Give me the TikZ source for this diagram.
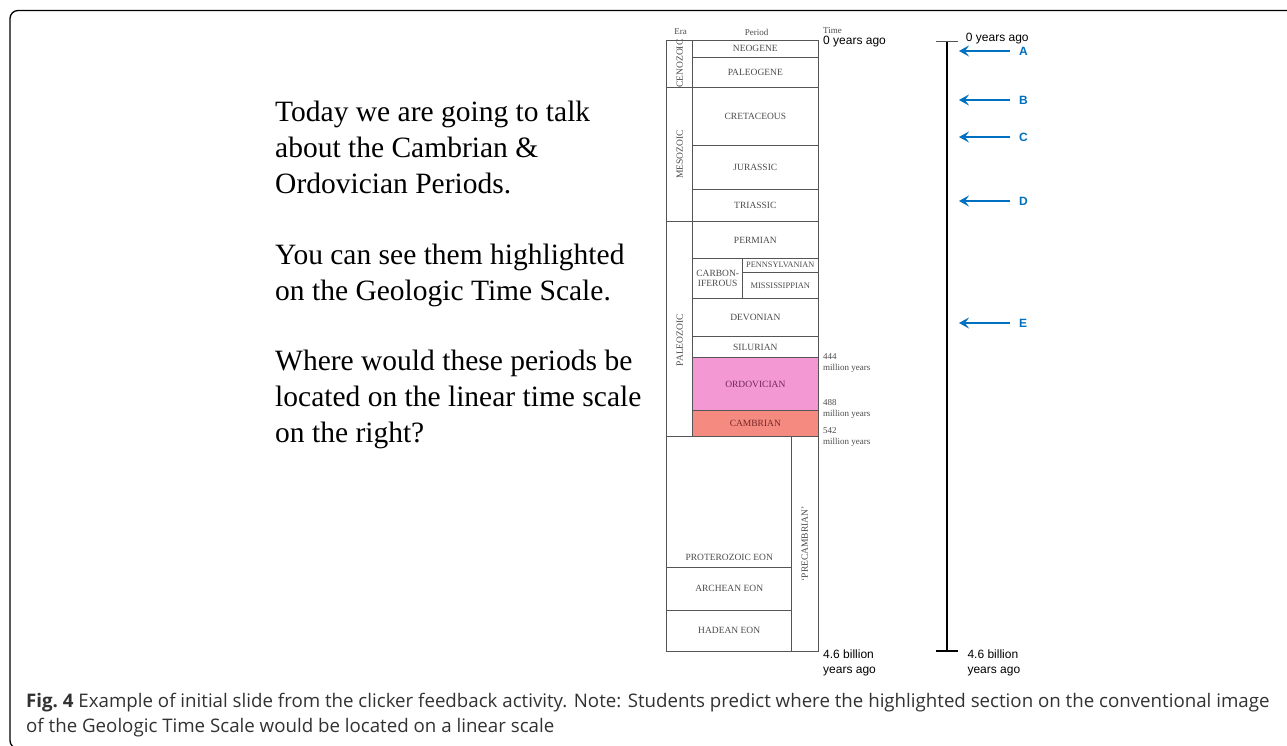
\documentclass[tikz,border=0pt]{standalone}
\usepackage{fontspec}
\setmainfont{Liberation Serif}
\newfontfamily\sansfnt{Liberation Sans}
\newfontfamily\capfnt{Open Sans}
\usetikzlibrary{positioning,arrows.meta}

\definecolor{tabline}{RGB}{85,85,85}
\definecolor{tabtext}{RGB}{75,75,75}
\definecolor{ordopink}{RGB}{244,152,212}
\definecolor{ordotext}{RGB}{110,40,85}
\definecolor{cambsalmon}{RGB}{244,138,128}
\definecolor{cambtext}{RGB}{120,40,40}
\definecolor{choiceblue}{RGB}{0,112,192}
\definecolor{captext}{RGB}{50,50,50}

\tikzset{
	per/.style={draw=tabline, line width=0.9pt, anchor=north west, inner sep=0pt, outer sep=0pt, text=tabtext, font=\fontsize{9.5}{10}\selectfont, minimum width=125.3pt},
	era/.style={per, minimum width=26pt},
	eralab/.style={rotate=90, text=tabtext, inner sep=0pt, font=\fontsize{9.5}{10}\selectfont},
	tabtxt/.style={inner sep=0pt, text=tabtext, font=\fontsize{9.5}{10}\selectfont},
	hdr/.style={inner sep=0pt, text=tabtext, font=\fontsize{9}{10}\selectfont},
	agelab/.style={anchor=north west, inner sep=0pt, align=left, text=tabtext, font=\fontsize{9}{11}\selectfont},
	timelab/.style={inner sep=0pt, align=left, font=\sansfnt\fontsize{12}{15}\selectfont},
	choice/.style={inner sep=0pt, text=choiceblue, font=\sansfnt\bfseries\fontsize{12}{12}\selectfont},
	pointer/.style={draw=choiceblue, line width=2.5pt, -{Stealth[length=10pt,width=11pt,inset=4pt]}},
	scaleline/.style={line width=1.4pt},
	slide/.style={anchor=north west, align=left, inner sep=0pt, font=\fontsize{29.5}{36}\selectfont},
}

\begin{document}
\begin{tikzpicture}[x=1pt,y=-1pt]
	\useasboundingbox (0,0) rectangle (1287,746);
	\draw[line width=1.3pt, rounded corners=8pt] (1300,10.5) -- (10,10.5) -- (10,748.5) -- (1300,748.5);

	% slide text
	\node[slide] (para1) at (275,100.9) {Today we are going to talk\\about the Cambrian \&\\Ordovician Periods.};
	\node[slide] (para2) at (275,243.4) {You can see them highlighted\\on the Geologic Time Scale.};
	\node[slide] (para3) at (275,349.4) {Where would these periods be\\located on the linear time scale\\on the right?};

	% time scale table
	\node[hdr] (hera) at (680.7,32) {Era};
	\node[hdr] (hper) at (756.7,32) {Period};
	\node[hdr, anchor=west] (htime) at (823,31) {Time};

	\node[era, minimum height=47.3pt, label={[eralab]center:CENOZOIC}] (ceno) at (666.7,40) {};
	\node[era, minimum height=134.4pt, label={[eralab]center:MESOZOIC}] (meso) at (ceno.south west) {};
	\node[era, minimum height=215pt, label={[eralab, xshift=-11pt]center:PALEOZOIC}] (paleo) at (meso.south west) {};

	\node[per, minimum height=17.7pt] (neog) at (ceno.north east) {NEOGENE};
	\node[per, minimum height=29.6pt] (paleog) at (neog.south west) {PALEOGENE};
	\node[per, minimum height=58pt] (cret) at (paleog.south west) {CRETACEOUS};
	\node[per, minimum height=44pt] (jura) at (cret.south west) {JURASSIC};
	\node[per, minimum height=32.4pt] (tria) at (jura.south west) {TRIASSIC};
	\node[per, minimum height=36.6pt] (perm) at (tria.south west) {PERMIAN};
	\node[per, minimum width=50pt, minimum height=40pt, align=center, font=\fontsize{9.5}{10}\selectfont] (carb) at (perm.south west) {CARBON-\\IFEROUS};
	\node[per, minimum width=75.3pt, minimum height=14pt, font=\fontsize{8.3}{9}\selectfont] (penn) at (carb.north east) {PENNSYLVANIAN};
	\node[per, minimum width=75.3pt, minimum height=26pt, font=\fontsize{8.5}{9}\selectfont] (miss) at (penn.south west) {MISSISSIPPIAN};
	\node[per, minimum height=38.4pt] (devo) at (carb.south west) {DEVONIAN};
	\node[per, minimum height=21pt] (silu) at (devo.south west) {SILURIAN};
	\node[per, minimum height=53pt, fill=ordopink, text=ordotext] (ordo) at (silu.south west) {ORDOVICIAN};
	\node[per, minimum height=26pt, fill=cambsalmon, text=cambtext] (camb) at (ordo.south west) {CAMBRIAN};

	\node[per, minimum width=125pt, minimum height=131pt] (prot) at (paleo.south west) {};
	\node[tabtxt, above=7pt of prot.south] (protlab) {PROTEROZOIC EON};
	\node[per, minimum width=125pt, minimum height=42.3pt] (arch) at (prot.south west) {ARCHEAN EON};
	\node[per, minimum width=125pt, minimum height=41pt] (hade) at (arch.south west) {HADEAN EON};
	\node[per, minimum width=26.3pt, minimum height=214.3pt, label={[eralab]center:`PRECAMBRIAN'}] (prec) at (prot.north east) {};

	\node[agelab] (a444) at (823,353.5) {444\\million years};
	\node[agelab] (a488) at (823,399.5) {488\\million years};
	\node[agelab] (a542) at (823,427) {542\\million years};
	\node[timelab, anchor=base west] (t0) at (823,45) {0 years ago};
	\node[timelab, anchor=north west] (tend) at (823,649.5) {4.6 billion\\years ago};

	% linear scale
	\coordinate (lin0) at (947,41.7);
	\coordinate (lin1) at (947,651);
	\draw[scaleline, draw=tabline] ([xshift=-11pt]lin0) -- ([xshift=11pt]lin0);
	\draw[scaleline] (lin0) -- (lin1);
	\draw[scaleline] ([xshift=-11pt]lin1) -- ([xshift=11pt]lin1);
	\node[timelab, anchor=base west] (l0) at (965.7,42) {0 years ago};
	\node[timelab, anchor=north west] (lend) at (967.3,649.5) {4.6 billion\\years ago};

	\foreach \lab/\yy in {A/51,B/100,C/137,D/201,E/323}{
		\node[choice, anchor=west] (ch\lab) at (1019,\yy) {\lab};
		\coordinate (tip\lab) at (959,\yy);
		\draw[pointer] ([xshift=-9pt]ch\lab.west) -- (tip\lab);
	}

	% caption
	\node[anchor=north west, inner sep=0pt, align=left, text=captext, font=\capfnt\fontsize{18.7}{25}\selectfont] (cap) at (26,693) {\textbf{Fig.~4} Example of initial slide from the clicker feedback activity. Note: Students predict where the highlighted section on the conventional image\\of the Geologic Time Scale would be located on a linear scale};
\end{tikzpicture}
\end{document}
